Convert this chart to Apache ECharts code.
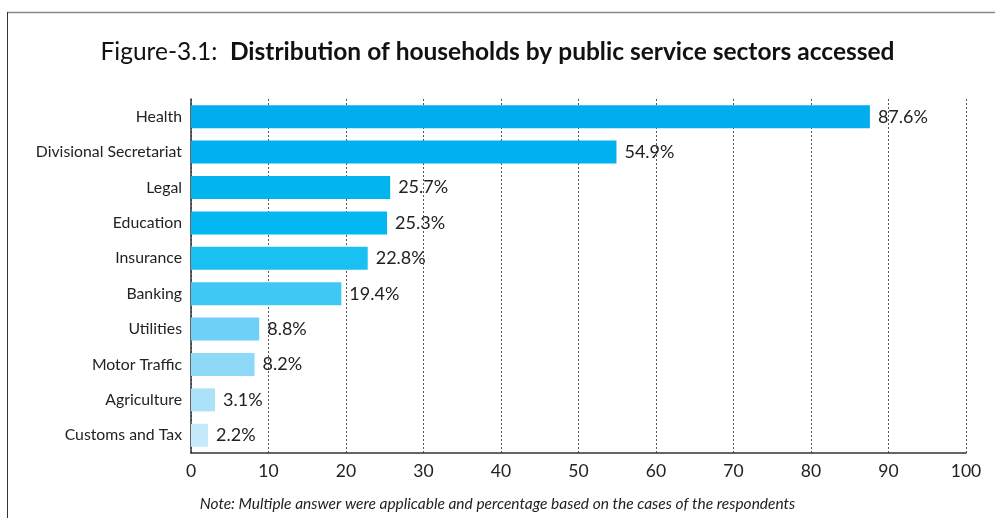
<!DOCTYPE html>
<html>
<head>
<meta charset="utf-8">
<script src="https://cdn.jsdelivr.net/npm/echarts@6/dist/echarts.min.js"></script>
<style>
  html, body { margin: 0; padding: 0; background: #ffffff; }
  #chart { width: 995px; height: 518px; }
</style>
</head>
<body>
<div id="chart"></div>
<script>
// Public service sectors, listed top to bottom
const sectors = [
  'Health', 'Divisional Secretariat', 'Legal', 'Education', 'Insurance',
  'Banking', 'Utilities', 'Motor Traffic', 'Agriculture', 'Customs and Tax'
];
// Share of households (%) that accessed each sector
const shares = [87.6, 54.9, 25.7, 25.3, 22.8, 19.4, 8.8, 8.2, 3.1, 2.2];
// Bar fills, fading from deep to pale blue
const barColors = [
  '#00aeef', '#00b0ef', '#00b4ef', '#03b7f0', '#19c0f2',
  '#40c8f4', '#6dd0f6', '#8ed9f7', '#ace2f9', '#c6eafa'
];
const xTicks = [0, 10, 20, 30, 40, 50, 60, 70, 80, 90, 100];

const FONT = 'Lato, "Open Sans", sans-serif';
const chart = echarts.init(document.getElementById('chart'));

chart.setOption({
  animation: false,
  backgroundColor: '#ffffff',
  title: {
    text: '{n|Figure-3.1:  }{b|Distribution of households by public service sectors accessed}',
    left: 'center',
    top: 35,
    textStyle: {
      rich: {
        n: { fontFamily: FONT, fontSize: 24.5, color: '#111', fontWeight: 'normal' },
        b: { fontFamily: FONT, fontSize: 24.5, color: '#111', fontWeight: 'bold' }
      }
    }
  },
  grid: { left: 191, right: 29, top: 99, bottom: 65, containLabel: false },
  xAxis: {
    type: 'value',
    min: xTicks[0],
    max: xTicks[xTicks.length - 1],
    interval: 10,
    axisLine: { show: true, onZero: false, lineStyle: { color: '#333', width: 1.5 } },
    axisTick: { show: false },
    axisLabel: { fontFamily: FONT, fontSize: 17.5, color: '#222', margin: 9 },
    splitLine: { show: true, lineStyle: { color: '#555', type: [2, 2], width: 1 } }
  },
  yAxis: {
    type: 'category',
    data: sectors,
    inverse: true,
    axisLine: { show: true, lineStyle: { color: '#333', width: 1.5 } },
    axisTick: { show: false },
    axisLabel: { fontFamily: FONT, fontSize: 15.8, color: '#222', margin: 9 }
  },
  series: [{
    type: 'bar',
    data: shares.map((v, i) => ({ value: v, itemStyle: { color: barColors[i] } })),
    barCategoryGap: '35%',
    label: {
      show: true,
      position: 'right',
      distance: 8,
      fontFamily: FONT,
      fontSize: 18,
      color: '#222',
      formatter: p => p.value.toFixed(1) + '%'
    }
  }],
  graphic: [
    { type: 'line', shape: { x1: 7, y1: 12.5, x2: 995, y2: 12.5 }, style: { stroke: '#8a8a8a', lineWidth: 1.5 } },
    { type: 'line', shape: { x1: 7.5, y1: 12, x2: 7.5, y2: 518 }, style: { stroke: '#333', lineWidth: 1 } },
    {
      type: 'text', left: 'center', top: 496,
      style: {
        text: 'Note: Multiple answer were applicable and percentage based on the cases of the respondents',
        font: 'italic 15.5px ' + FONT, fill: '#222'
      }
    }
  ]
});
</script>
</body>
</html>
